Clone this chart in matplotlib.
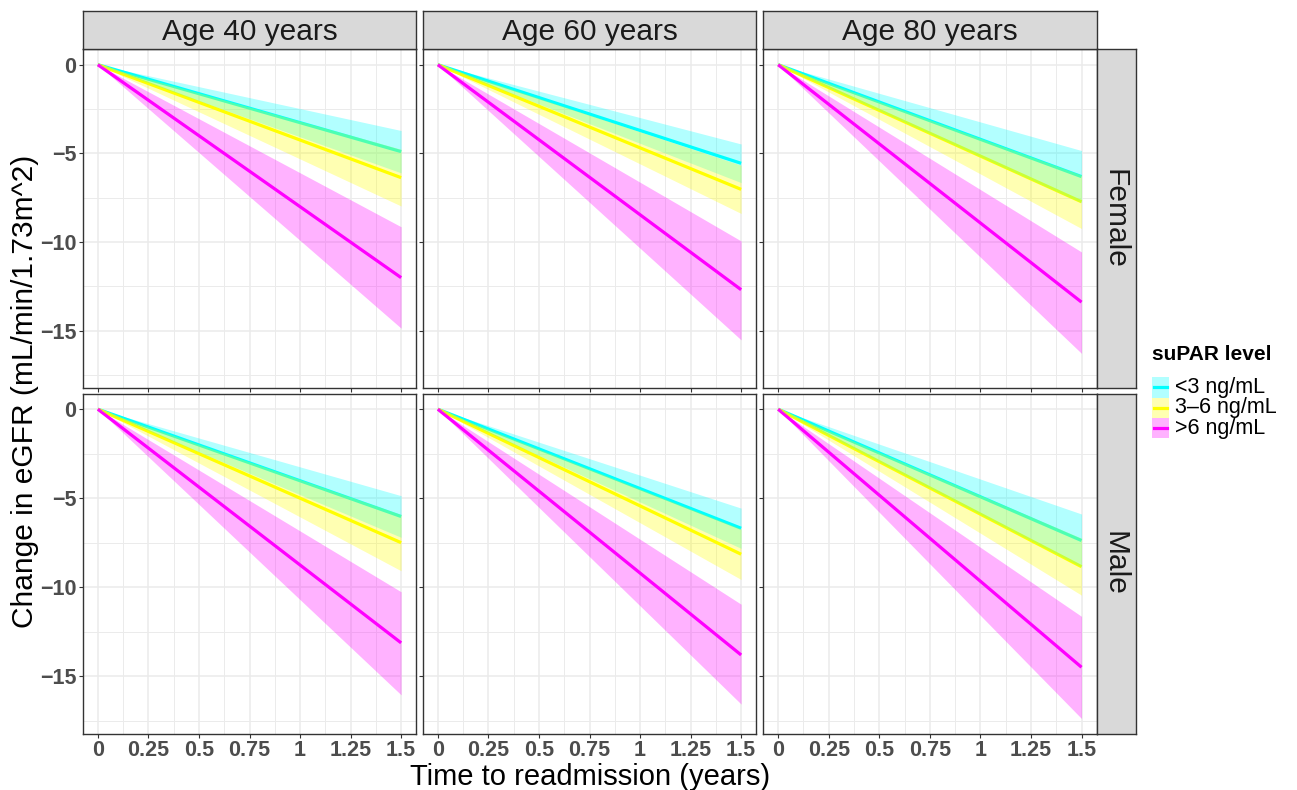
import numpy as np
import matplotlib
matplotlib.use('Agg')
import matplotlib.pyplot as plt
from matplotlib.patches import Rectangle
from matplotlib.lines import Line2D
from matplotlib.ticker import MultipleLocator, FuncFormatter

plt.rcParams['font.family'] = ['Liberation Sans', 'DejaVu Sans']

# データ (1.5年時点の値, 0年時点は全て0)
ages = ['Age 40 years', 'Age 60 years', 'Age 80 years']
sexes = ['Female', 'Male']
levels = ['<3 ng/mL', '3–6 ng/mL', '>6 ng/mL']
level_colors = ['#00FFFF', '#FFFF00', '#FF00FF']
time_years = [0, 1.5]

# 行: suPAR level, 列: 年齢
female_fit = [[-4.90, -5.56, -6.31], [-6.37, -7.03, -7.73], [-12.01, -12.69, -13.39]]
female_hi = [[-3.71, -4.47, -4.84], [-4.77, -5.67, -6.22], [-9.14, -9.94, -10.56]]
female_lo = [[-6.10, -6.65, -7.78], [-7.97, -8.39, -9.24], [-14.86, -15.52, -16.28]]
male_fit = [[-6.03, -6.69, -7.38], [-7.50, -8.15, -8.85], [-13.13, -13.81, -14.50]]
male_hi = [[-4.86, -5.56, -5.89], [-5.92, -6.73, -7.25], [-10.26, -10.96, -11.64]]
male_lo = [[-7.20, -7.82, -8.87], [-9.08, -9.57, -10.45], [-16.05, -16.57, -17.38]]

fits = {'Female': female_fit, 'Male': male_fit}
his = {'Female': female_hi, 'Male': male_hi}
los = {'Female': female_lo, 'Male': male_lo}

W, H = 1297, 790
fig = plt.figure(figsize=(W / 100, H / 100), dpi=100)

def px_box(x0, y0, x1, y1):
    return [x0 / W, 1 - y1 / H, (x1 - x0) / W, (y1 - y0) / H]

col_x = [(82.7, 416.3), (422.7, 756.3), (763.0, 1096.7)]
row_y = [(49.3, 388.3), (393.7, 734.0)]
strip_top = 10.7
strip_right = 1135.7

grey_grid = '#EBEBEB'
dark = '#333333'
tick_col = '#4D4D4D'

for r, sex in enumerate(sexes):
    for c, age in enumerate(ages):
        ax = fig.add_axes(px_box(col_x[c][0], row_y[r][0], col_x[c][1], row_y[r][1]))
        for i, lev in enumerate(levels):
            fit = [0, fits[sex][i][c]]
            ax.plot(time_years, fit, color=level_colors[i], lw=2.3, zorder=2,
                    solid_capstyle='butt')
        for i, lev in enumerate(levels):
            lo = [0, los[sex][i][c]]
            hi = [0, his[sex][i][c]]
            ax.fill_between(time_years, lo, hi, color=level_colors[i], alpha=0.3,
                            lw=0, zorder=3)
        ax.set_xlim(-0.075, 1.575)
        ax.set_ylim(-18.25, 0.87)
        ax.xaxis.set_major_locator(MultipleLocator(0.25))
        ax.xaxis.set_minor_locator(MultipleLocator(0.125))
        ax.yaxis.set_major_locator(MultipleLocator(5))
        ax.yaxis.set_minor_locator(MultipleLocator(2.5))
        ax.grid(which='major', color=grey_grid, lw=1.1, zorder=0)
        ax.grid(which='minor', color=grey_grid, lw=0.7, zorder=0)
        ax.set_axisbelow(True)
        for s in ax.spines.values():
            s.set_color(dark)
            s.set_linewidth(1.0)
        ax.tick_params(which='minor', length=0)
        ax.tick_params(which='major', length=3, width=0.8, color=dark, pad=1.5,
                       labelsize=15.5, labelcolor=tick_col)
        ax.xaxis.set_major_formatter(FuncFormatter(lambda v, p: '%g' % v))
        ax.yaxis.set_major_formatter(FuncFormatter(lambda v, p: ('%g' % v).replace('-', '\u2212')))
        for lab in ax.get_xticklabels() + ax.get_yticklabels():
            lab.set_fontweight('bold')
        if r == 0:
            ax.tick_params(axis='x', labelbottom=False)
        if c > 0:
            ax.tick_params(axis='y', labelleft=False)

        # 上のストリップ
        if r == 0:
            sax = fig.add_axes(px_box(col_x[c][0], strip_top, col_x[c][1], row_y[0][0]))
            sax.set_facecolor('#D9D9D9')
            sax.set_xticks([]); sax.set_yticks([])
            for s in sax.spines.values():
                s.set_color(dark); s.set_linewidth(1.0)
            sax.text(0.5, 0.45, age, ha='center', va='center', fontsize=21.5,
                     color='#1A1A1A', transform=sax.transAxes)
    # 右のストリップ
    rax = fig.add_axes(px_box(col_x[2][1], row_y[r][0], strip_right, row_y[r][1]))
    rax.set_facecolor('#D9D9D9')
    rax.set_xticks([]); rax.set_yticks([])
    for s in rax.spines.values():
        s.set_color(dark); s.set_linewidth(1.0)
    rax.text(0.45, 0.5, sex, ha='center', va='center', fontsize=21.5, rotation=-90,
             color='#1A1A1A', transform=rax.transAxes)

# 軸ラベル
fig.text(589.7 / W, 1 - 777 / H, 'Time to readmission (years)', ha='center', va='center',
         fontsize=21)
fig.text(25 / W, 1 - 391.7 / H, 'Change in eGFR (mL/min/1.73m^2)', ha='center', va='center',
         fontsize=21.5, rotation=90)

# 凡例
fig.text(1152 / W, 1 - 355 / H, 'suPAR level', ha='left', va='center', fontsize=15,
         fontweight='bold')
key_x0, key_w, key_h = 1152, 17, 20.5
for i, lev in enumerate(levels):
    y0 = 377 + i * key_h
    fig.patches.append(Rectangle((key_x0 / W, 1 - (y0 + key_h) / H), key_w / W, key_h / H,
                                 transform=fig.transFigure, facecolor=level_colors[i],
                                 alpha=0.3, lw=0))
    yc = 1 - (y0 + key_h / 2) / H
    fig.lines.append(Line2D([(key_x0 + 2) / W, (key_x0 + key_w - 2) / W], [yc, yc],
                            transform=fig.transFigure, color=level_colors[i], lw=2.3))
    fig.text((key_x0 + key_w + 6) / W, yc, lev, ha='left', va='center', fontsize=15.5)

fig.savefig('out.png', dpi=100)
